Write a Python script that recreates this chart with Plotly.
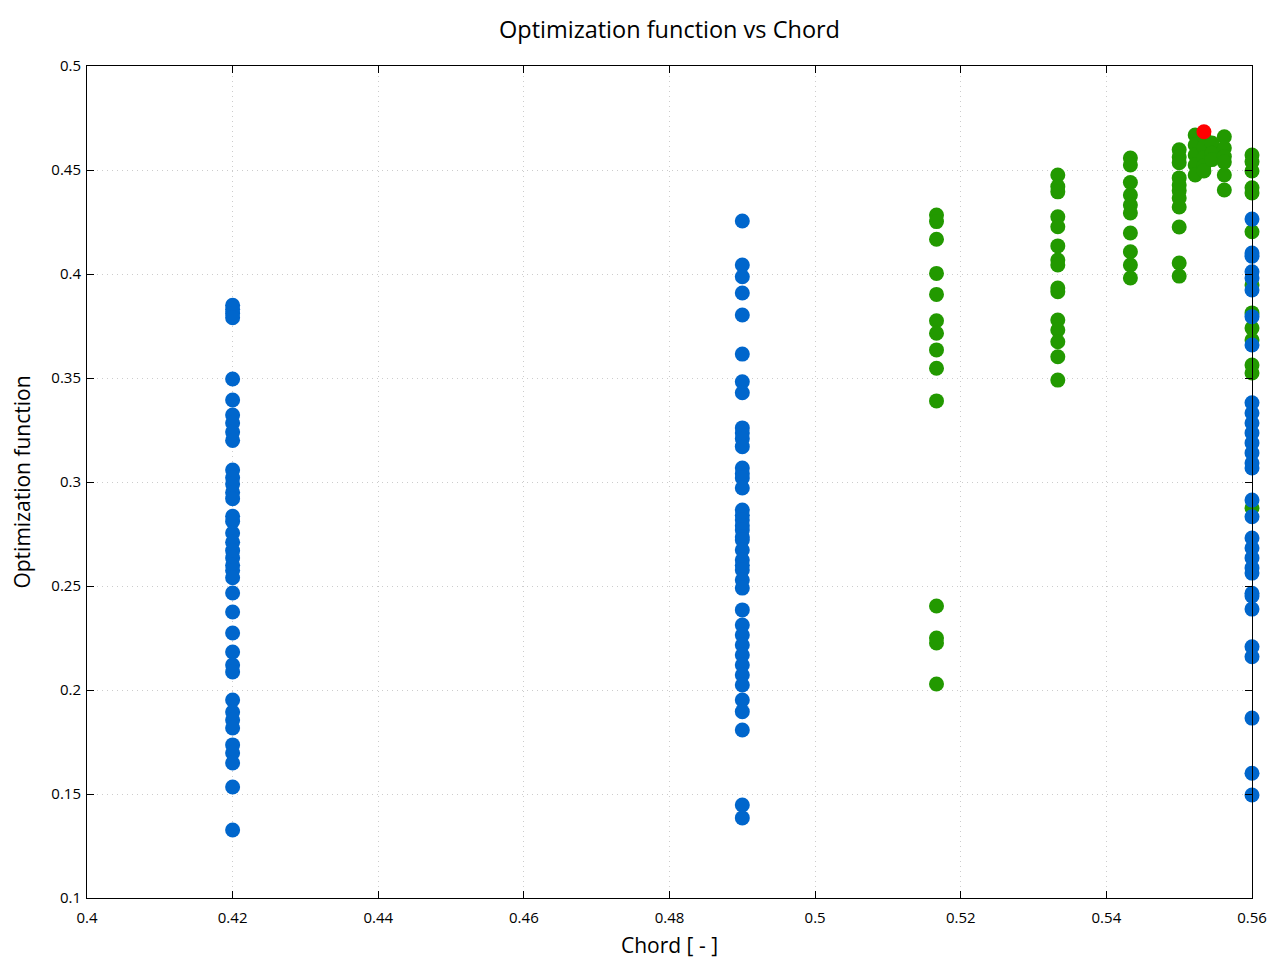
import plotly.graph_objects as go

# ---- data ----
blue_x_042 = 0.42
blue_y_042 = [0.385, 0.383, 0.381, 0.379, 0.3495, 0.3394, 0.3322, 0.3284, 0.324, 0.320,
              0.3058, 0.302, 0.299, 0.295, 0.292, 0.2835, 0.281, 0.2755, 0.271, 0.267,
              0.2635, 0.260, 0.2575, 0.254, 0.2466, 0.2375, 0.2274, 0.2183, 0.212, 0.2087,
              0.1952, 0.1894, 0.1856, 0.1817, 0.1736, 0.1697, 0.1649, 0.1534, 0.1327]
blue_x_049 = 0.49
blue_y_049 = [0.4255, 0.4043, 0.3987, 0.3909, 0.3803, 0.3615, 0.3482, 0.3429, 0.326, 0.3235,
              0.3208, 0.317, 0.3067, 0.304, 0.3019, 0.2971, 0.2865, 0.284, 0.2817, 0.279,
              0.2769, 0.2735, 0.2721, 0.2673, 0.2625, 0.2600, 0.2577, 0.2529, 0.249, 0.2385,
              0.2312, 0.2264, 0.2216, 0.2168, 0.212, 0.2072, 0.2024, 0.1952, 0.1896, 0.1808,
              0.1447, 0.1385]
blue_x_056 = 0.56
blue_y_056 = [0.4264, 0.4101, 0.4085, 0.4011, 0.3981, 0.3923, 0.3795, 0.3659, 0.3381, 0.3332,
              0.3284, 0.3236, 0.3188, 0.314, 0.3091, 0.3067, 0.2913, 0.2833, 0.2731, 0.2683,
              0.2635, 0.2587, 0.2562, 0.2465, 0.2452, 0.2389, 0.2208, 0.216, 0.1865, 0.160,
              0.1495]

green_groups = {
    0.51667: [0.4284, 0.4252, 0.4167, 0.4003, 0.3902, 0.3775, 0.3715, 0.3635, 0.3547, 0.339,
              0.2404, 0.225, 0.2226, 0.2029],
    0.53333: [0.4476, 0.442, 0.4395, 0.4275, 0.4227, 0.4135, 0.4067, 0.4043, 0.3933, 0.3915,
              0.3779, 0.3731, 0.3674, 0.3602, 0.349],
    0.5433: [0.4558, 0.4524, 0.444, 0.438, 0.4332, 0.4293, 0.4197, 0.4107, 0.4043, 0.3981],
    0.55: [0.4597, 0.4562, 0.4535, 0.4462, 0.4428, 0.4400, 0.4365, 0.4322, 0.4226, 0.4053, 0.399],
    0.5522: [0.4668, 0.4620, 0.4572, 0.4524, 0.4476],
    0.5534: [0.466, 0.461, 0.456, 0.452, 0.4495],
    0.5545: [0.463, 0.458, 0.455],
    0.5562: [0.466, 0.4606, 0.4565, 0.4538, 0.4476, 0.4404],
    0.56: [0.4572, 0.454, 0.4495, 0.4415, 0.439, 0.4203, 0.3947, 0.3813, 0.374, 0.3683,
           0.3562, 0.3524, 0.2875],
}

best_x = [0.5534]
best_y = [0.4684]

x_ticks = [0.4, 0.42, 0.44, 0.46, 0.48, 0.5, 0.52, 0.54, 0.56]
x_ticktext = ["0.4", "0.42", "0.44", "0.46", "0.48", "0.5", "0.52", "0.54", "0.56"]
y_ticks = [0.1, 0.15, 0.2, 0.25, 0.3, 0.35, 0.4, 0.45, 0.5]
y_ticktext = ["0.1", "0.15", "0.2", "0.25", "0.3", "0.35", "0.4", "0.45", "0.5"]

# ---- build ----
BLUE = "#0066cc"
GREEN = "#229900"
RED = "#ff0000"
MS = 15

gx, gy = [], []
for xv, ys in green_groups.items():
    gx += [xv] * len(ys)
    gy += ys

bx = [blue_x_042] * len(blue_y_042) + [blue_x_049] * len(blue_y_049) + [blue_x_056] * len(blue_y_056)
by = blue_y_042 + blue_y_049 + blue_y_056

fig = go.Figure()
fig.add_trace(go.Scatter(x=gx, y=gy, mode="markers", cliponaxis=False,
                         marker=dict(color=GREEN, size=MS, line=dict(width=0)), showlegend=False))
fig.add_trace(go.Scatter(x=bx, y=by, mode="markers", cliponaxis=False,
                         marker=dict(color=BLUE, size=MS, line=dict(width=0)), showlegend=False))
fig.add_trace(go.Scatter(x=best_x, y=best_y, mode="markers", cliponaxis=False,
                         marker=dict(color=RED, size=MS, line=dict(width=0)), showlegend=False))

font_family = "Open Sans, DejaVu Sans, sans-serif"
axis_common = dict(
    showline=True, linecolor="black", linewidth=1, mirror="allticks",
    ticks="inside", ticklen=7, tickcolor="black", tickwidth=1,
    showgrid=True, gridcolor="#cccccc", griddash="1px,4px", gridwidth=1,
    zeroline=False, tickfont=dict(size=15, color="black", family=font_family),
)

# page body has an 8px margin, so the figure is sized/offset to compensate
W, H = 1272, 952
fig.update_layout(
    width=W, height=H,
    paper_bgcolor="white", plot_bgcolor="white",
    margin=dict(l=79, r=28, t=58, b=62, autoexpand=False),
    title=dict(text="Optimization function vs Chord", xref="paper", x=0.5, xanchor="center",
               y=1 - 22 / H, yanchor="middle",
               font=dict(size=23.5, color="black", family=font_family)),
    xaxis=dict(range=[0.4, 0.56], tickvals=x_ticks, ticktext=x_ticktext,
               ticklabelstandoff=6,
               title=dict(text="Chord [ - ]", font=dict(size=21, color="black", family=font_family),
                          standoff=12),
               **axis_common),
    yaxis=dict(range=[0.1, 0.5], tickvals=y_ticks, ticktext=y_ticktext,
               ticklabelstandoff=2,
               title=dict(text="Optimization function", font=dict(size=21, color="black", family=font_family),
                          standoff=18),
               **axis_common),
)

fig.write_html("out.html")
